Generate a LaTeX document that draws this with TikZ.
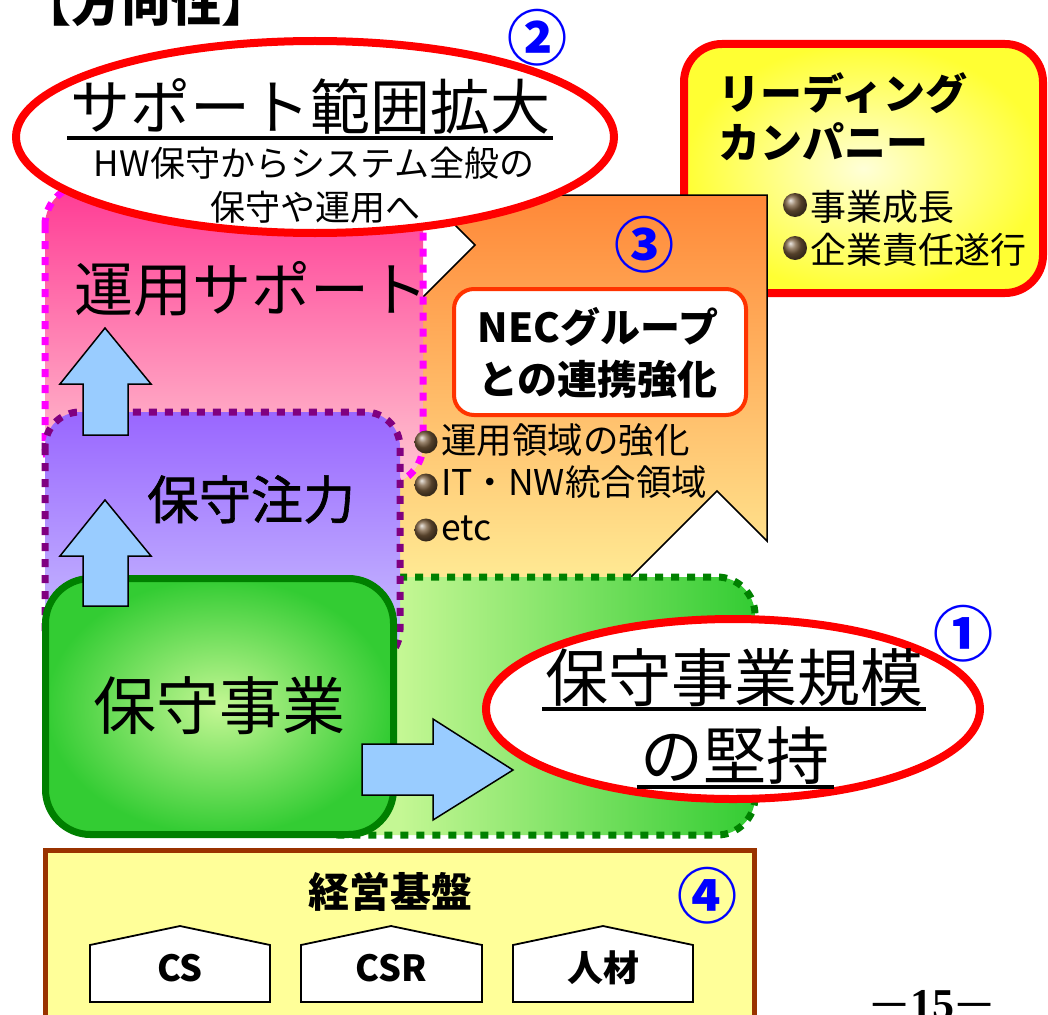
\documentclass[tikz,border=0pt]{standalone}
\usepackage{fontspec}
\usepackage{graphicx}
\setmainfont{Noto Sans CJK JP}
\newfontfamily\medjp{Noto Sans CJK JP}[FakeBold=1.2]
\newfontfamily\serifbold{Liberation Serif}
\usetikzlibrary{shapes.geometric}
\definecolor{pinkT}{RGB}{255,58,148}
\definecolor{pinkB}{RGB}{255,200,210}
\definecolor{purpT}{RGB}{153,102,255}
\definecolor{purpB}{RGB}{205,198,255}
\definecolor{orgT}{RGB}{255,136,56}
\definecolor{orgB}{RGB}{255,236,150}
\definecolor{grL}{RGB}{196,247,148}
\definecolor{grD}{RGB}{51,204,51}
\definecolor{grLine}{RGB}{0,128,0}
\definecolor{purLine}{RGB}{128,0,128}
\definecolor{magLine}{RGB}{255,0,255}
\definecolor{yelIn}{RGB}{255,255,215}
\definecolor{yelOut}{RGB}{255,255,51}
\definecolor{necR}{RGB}{255,51,0}
\definecolor{arrB}{RGB}{153,204,255}
\definecolor{brownL}{RGB}{153,51,0}
\definecolor{baseY}{RGB}{255,255,153}
\definecolor{ballc}{RGB}{120,92,60}
\definecolor{numB}{RGB}{0,0,255}
\pgfdeclarehorizontalshading{grh}{100bp}{color(0bp)=(grL); color(36bp)=(grL); color(75bp)=(grD); color(100bp)=(grD)}
\newcommand\myfs[1]{\fontsize{#1}{#1}\selectfont}
\begin{document}
\begin{tikzpicture}[x=1pt,y=-1pt,
  txt/.style={inner sep=0pt, outer sep=0pt, anchor=base, text=black},
  uline/.style={line width=4pt, black},
  num/.style={inner sep=0pt, text=numB, font=\bfseries\myfs{60}},
  dotbox/.style={line width=7pt, dash pattern=on 8pt off 8pt},
  blockarrow/.style={draw=black, line width=1.5pt, fill=arrB, line join=miter},
  house/.style={draw=black, line width=1.8pt, fill=white},
  ball/.style={ball color=ballc}]
\useasboundingbox (0,0) rectangle (1048,1014);
\fill[white] (0,0) rectangle (1048,1014);

% leading company box
\draw[draw=red, line width=8pt, rounded corners=38pt, inner color=yelIn, outer color=yelOut] (684,44) rectangle (1043,293);

% orange notched region
\draw[draw=black, line width=1.5pt, top color=orgT, bottom color=orgB]
  (425,195) -- (767,195) -- (767,541) -- (717,491) -- (620,588) -- (380,588) -- (380,340) -- (475,245) -- cycle;

% green dotted region
\draw[dotbox, draw=grLine, shading=grh, rounded corners=38pt] (300,577) rectangle (755,835);

% pink region
\draw[dotbox, draw=magLine, top color=pinkT, bottom color=pinkB, rounded corners=40pt] (45,185) rectangle (423,485);

% purple region
\draw[dotbox, draw=purLine, top color=purpT, bottom color=purpB, rounded corners=35pt] (45,412) rectangle (400,665);

% green box
\draw[draw=grLine, line width=7pt, inner color=grL, outer color=grD, rounded corners=45pt] (45.5,578.5) rectangle (393.5,834.5);

% block arrows
\draw[blockarrow] (83,435) -- (83,384) -- (60,384) -- (105,328) -- (151,384) -- (128,384) -- (128,435) -- cycle;
\draw[blockarrow] (83,606) -- (83,556) -- (60,556) -- (105,500) -- (151,556) -- (128,556) -- (128,606) -- cycle;
\draw[blockarrow] (362,744) -- (433,744) -- (433,719) -- (513,770) -- (433,820) -- (433,795) -- (362,795) -- cycle;

% ellipses
\draw[draw=red, line width=8pt, fill=white] (315,137) ellipse [x radius=299pt, y radius=96pt];
\draw[draw=red, line width=8pt, fill=white] (733,709) ellipse [x radius=247pt, y radius=90pt];

% NEC box
\draw[draw=necR, line width=4pt, fill=white, rounded corners=20pt] (454,289) rectangle (746,415);

% bottom base box
\draw[draw=brownL, line width=5pt, fill=baseY] (45.5,850.5) rectangle (754.5,1040);
\draw[house] (90,1002) -- (90,945) -- (180,926) -- (270,945) -- (270,1002) -- cycle;
\draw[house] (301,1002) -- (301,945) -- (391,926) -- (482,945) -- (482,1002) -- cycle;
\draw[house] (513,1002) -- (513,945) -- (603,926) -- (693,945) -- (693,1002) -- cycle;

% bullets
\shade[ball] (426,442) circle [radius=11.5pt];
\shade[ball] (426,485) circle [radius=11.5pt];
\shade[ball] (426,530) circle [radius=11.5pt];
\shade[ball] (795,205) circle [radius=12pt];
\shade[ball] (795,248) circle [radius=12pt];

% texts
\node[txt, font=\bfseries\myfs{50}] (title) at (146,22) {【方向性】};

\node[txt, font=\myfs{60}] (t1) at (310,129) {サポート範囲拡大};
\draw[uline] ([xshift=-3pt,yshift=-9pt]t1.base west) -- ([xshift=3pt,yshift=-9pt]t1.base east);
\node[txt, font=\myfs{35}] (t2) at (314,176) {HW保守からシステム全般の};
\node[txt, font=\myfs{35}] (t3) at (315,220) {保守や運用へ};
\node[num] (n2) at (537,38) {②};

\node[txt, anchor=base west, font=\bfseries\myfs{42}] (lead1) at (718,110) {リーディング};
\node[txt, anchor=base west, font=\bfseries\myfs{42}] (lead2) at (718,158) {カンパニー};
\node[txt, anchor=base west, font=\myfs{36}] (lb1) at (810,220) {事業成長};
\node[txt, anchor=base west, font=\myfs{36}] (lb2) at (810,263) {企業責任遂行};

\node[num] (n3) at (644,245) {③};
\node[txt, font=\bfseries\myfs{40}] (nec1) at (598,342) {NECグループ};
\node[txt, font=\bfseries\myfs{40}] (nec2) at (598,394) {との連携強化};
\node[txt, anchor=base west, font=\myfs{35.5}] (ob1) at (441,453) {運用領域の強化};
\node[txt, anchor=base west, font=\myfs{35.5}] (ob2) at (441,495) {IT・NW統合領域};
\node[txt, anchor=base west, font=\myfs{35.5}] (ob3) at (441,540) {etc};

\node[txt, anchor=base west, font=\myfs{59}] (unyo) at (74,311) {運用サポート};
\node[txt, font=\medjp\myfs{52}] (chuuryoku) at (251,519) {保守注力};
\node[txt, font=\myfs{63}] (hoshu) at (219,729) {保守事業};

\node[txt, font=\myfs{63}] (k1) at (734,701) {保守事業規模};
\draw[uline] ([xshift=-3pt,yshift=-8pt]k1.base west) -- ([xshift=3pt,yshift=-8pt]k1.base east);
\node[txt, font=\myfs{63}] (k2) at (735,779) {の堅持};
\draw[uline] ([xshift=-4pt,yshift=-8pt]k2.base west) -- ([xshift=4pt,yshift=-8pt]k2.base east);
\node[num] (n1) at (963,634) {①};

\node[txt, font=\bfseries\myfs{41}] (kiban) at (390,907) {経営基盤};
\node[num] (n4) at (707,896) {④};
\node[inner sep=0pt, font=\bfseries\myfs{36}] (cs) at (180,968) {CS};
\node[inner sep=0pt, font=\bfseries\myfs{36}] (csr) at (391,968) {CSR};
\node[inner sep=0pt, font=\bfseries\myfs{36}] (jinzai) at (603,968) {人材};

\node[txt, font=\serifbold\bfseries\myfs{44}] (page) at (932,1019) {\scalebox{1.6}[1]{−}15\scalebox{1.6}[1]{−}};
\end{tikzpicture}
\end{document}
